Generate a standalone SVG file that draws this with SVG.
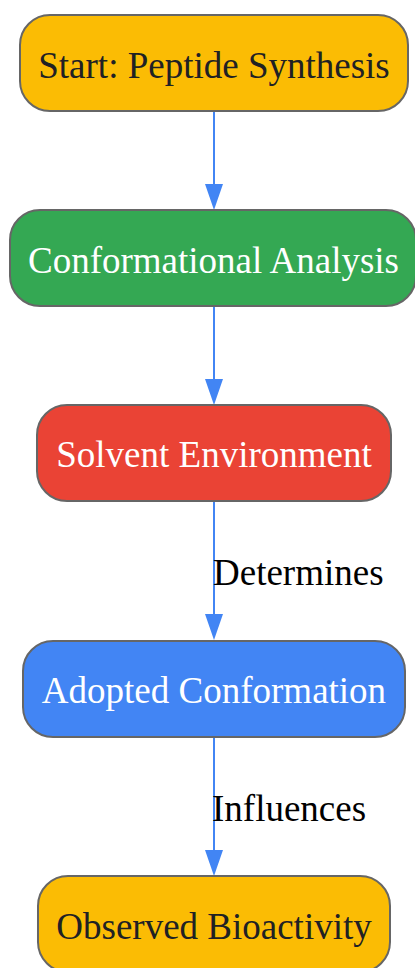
<svg xmlns="http://www.w3.org/2000/svg" width="415" height="968" viewBox="0 0 415 968">
<defs>
<style>
.node rect{stroke:#666666;stroke-width:2}
.node text{font-family:"Liberation Serif","Times New Roman",serif;font-size:37px;text-anchor:middle}
.edge{stroke:#4285F4;stroke-width:2;fill:none}
.lbl{font-family:"Liberation Serif","Times New Roman",serif;font-size:37px;fill:#000000}
</style>
<marker id="ah" markerUnits="userSpaceOnUse" markerWidth="26" markerHeight="18" refX="0" refY="9" orient="auto" viewBox="0 0 26 18">
<path d="M0,0 L26,9 L0,18 z" fill="#4285F4"/>
</marker>
</defs>
<rect width="415" height="968" fill="#ffffff"/>
<g id="connectors">
<path class="edge" d="M214,111 L214,184" marker-end="url(#ah)"/>
<path class="edge" d="M214,306 L214,379" marker-end="url(#ah)"/>
<path class="edge" d="M214,501 L214,614" marker-end="url(#ah)"/>
<text class="lbl" x="213" y="585">Determines</text>
<path class="edge" d="M214,737 L214,850" marker-end="url(#ah)"/>
<text class="lbl" x="212" y="821">Influences</text>
</g>
<g id="start" class="node">
<rect x="20" y="15" width="388" height="96" rx="30" fill="#FBBC04"/>
<text x="214" y="78" fill="#202124">Start: Peptide Synthesis</text>
</g>
<g id="analysis" class="node">
<rect x="10" y="210" width="406" height="96" rx="30" fill="#34A853"/>
<text x="213.5" y="273" fill="#ffffff">Conformational Analysis</text>
</g>
<g id="solvent" class="node">
<rect x="37" y="405" width="354" height="96" rx="30" fill="#EA4335"/>
<text x="214" y="467" fill="#ffffff">Solvent Environment</text>
</g>
<g id="conformation" class="node">
<rect x="23" y="641" width="382" height="96" rx="30" fill="#4285F4"/>
<text x="214" y="703" fill="#ffffff">Adopted Conformation</text>
</g>
<g id="bioactivity" class="node">
<rect x="38" y="876" width="352" height="96" rx="30" fill="#FBBC04"/>
<text x="214" y="939" fill="#202124">Observed Bioactivity</text>
</g>
</svg>
